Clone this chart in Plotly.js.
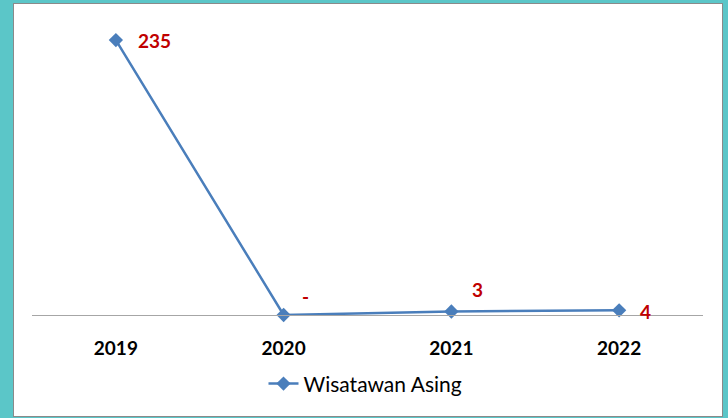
<!DOCTYPE html>
<html><head><meta charset="utf-8">
<script src="https://cdn.plot.ly/plotly-3.0.1.min.js"></script>
<style>
html,body{margin:0;padding:0;background:#5BC6C8;width:728px;height:418px;overflow:hidden;}
#box{position:absolute;left:13px;top:3px;width:708px;height:412px;border:1px solid #8a8a8a;background:#fff;}
#chart{width:708px;height:412px;}
</style></head>
<body><div id="box"><div id="chart"></div></div>
<script>
const years = ['2019','2020','2021','2022'];
const values = [235, 0, 3, 4];
const valueLabels = ['235','-','3','4'];
const seriesName = 'Wisatawan Asing';

const labelShift = [[39,0],[22,19],[26,22],[26,-1]];
const annotations = years.map((y,i)=>({
  x: i, y: values[i], xref:'x', yref:'y', text: valueLabels[i], showarrow:false,
  xshift: labelShift[i][0], yshift: labelShift[i][1],
  font:{family:'Lato, "Open Sans", sans-serif', size:19, color:'#C00000', weight:'bold'}
}));

Plotly.newPlot('chart',[{
  x: years, y: values, type:'scatter', mode:'lines+markers', name: seriesName,
  line:{color:'#4A7EBB', width:2.5},
  marker:{symbol:'diamond', size:11, color:'#4A7EBB'},
  cliponaxis:false
}],{
  width:708, height:412,
  margin:{l:18, r:19, t:15, b:99},
  paper_bgcolor:'rgba(0,0,0,0)', plot_bgcolor:'rgba(0,0,0,0)',
  showlegend:true,
  legend:{orientation:'h', x:0.345, xanchor:'left', y:-0.233, yanchor:'middle',
    font:{family:'Lato, "Open Sans", sans-serif', size:21, color:'#000'}},
  xaxis:{type:'category', range:[-0.5,3.5], showgrid:false, zeroline:false,
    showline:true, linecolor:'#a6a6a6', linewidth:1, ticks:'outside', ticklen:0,
    ticklabelstandoff:16,
    tickfont:{family:'Lato, "Open Sans", sans-serif', size:19, color:'#000', weight:'bold'}},
  yaxis:{range:[0,253], showgrid:false, zeroline:false, showline:false,
    showticklabels:false, ticks:'', fixedrange:true},
  annotations: annotations
},{displayModeBar:false, staticPlot:true});
</script></body></html>
